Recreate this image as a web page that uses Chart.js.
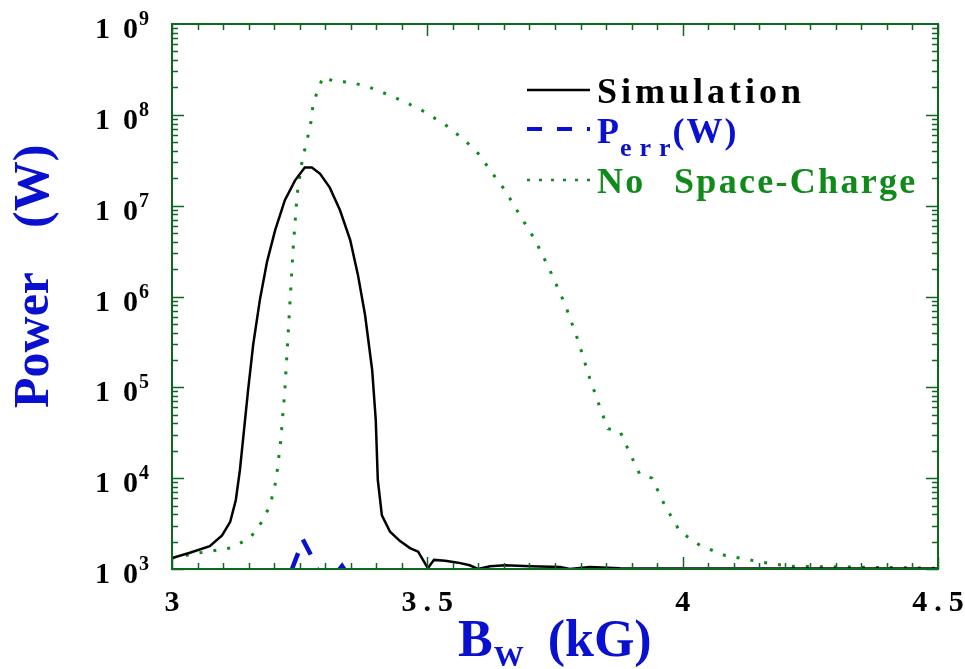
<!DOCTYPE html>
<html>
<head>
<meta charset="utf-8">
<script src="https://cdn.jsdelivr.net/npm/chart.js@4.4.1/dist/chart.umd.min.js"></script>
<style>
  body { margin: 0; background: #fff; }
  #wrap { width: 965px; height: 669px; }
</style>
</head>
<body>
<div id="wrap"><canvas id="myChart"></canvas></div>
<script>
// wiggler field (kG) and power (W)
const simB = [3.0, 3.035, 3.074, 3.098, 3.114, 3.125, 3.133, 3.139, 3.149, 3.159, 3.172, 3.186, 3.202, 3.221, 3.241,
  3.260, 3.274, 3.290, 3.309, 3.329, 3.349, 3.364, 3.378, 3.392, 3.399, 3.403, 3.411, 3.427, 3.446, 3.466, 3.482,
  3.501, 3.513, 3.535, 3.560, 3.583, 3.599, 3.623, 3.652, 3.701, 3.760, 3.779, 3.818, 3.877, 4.034, 4.5];
const simP = [1320, 1510, 1780, 2340, 3310, 5750, 12300, 26300, 93300, 295000, 912000, 2.4e6, 5.37e6, 1.15e7, 1.9e7,
  2.63e7, 2.63e7, 2.24e7, 1.58e7, 8.9e6, 4.17e6, 1.74e6, 6.3e5, 1.55e5, 4.37e4, 9550, 3890, 2570, 2040, 1700, 1550,
  1020, 1260, 1230, 1175, 1100, 1000, 1070, 1100, 1070, 1050, 1000, 1050, 1020, 1010, 1010];

const errB = [3.235, 3.247, 3.256, 3.270, 3.284, 3.29, 3.31, 3.333, 3.345, 3.38];
const errP = [1000, 1500, 2130, 1500, 1000, 850, 750, 1080, 850, 400];

const nscB = [3.0, 3.055, 3.114, 3.153, 3.176, 3.192, 3.204, 3.213, 3.221, 3.229, 3.237, 3.245, 3.255, 3.266, 3.272,
  3.276, 3.284, 3.296, 3.317, 3.349, 3.388, 3.437, 3.486, 3.535, 3.574, 3.603, 3.623, 3.652, 3.681, 3.711, 3.740,
  3.770, 3.795, 3.818, 3.842, 3.854, 3.877, 3.903, 3.916, 3.940, 3.965, 3.995, 4.034, 4.083, 4.151, 4.210, 4.328, 4.498];
const nscP = [1320, 1510, 1700, 2190, 3310, 5010, 9550, 26300, 93300, 5.5e5, 3.24e6, 1.32e7, 3.16e7, 5.75e7, 8.3e7,
  1.26e8, 1.78e8, 2.63e8, 2.34e8, 2.29e8, 2.0e8, 1.55e8, 1.15e8, 7.8e7, 5.2e7, 3.6e7, 2.45e7, 1.48e7, 7.9e6, 4.2e6, 1.95e6,
  8.1e5, 3.3e5, 1.26e5, 5.2e4, 3.5e4, 3.3e4, 1.58e4, 1.1e4, 1.0e4, 5000, 2570, 1820, 1410, 1200, 1070, 1050, 1020];

const xTicks = [3, 3.5, 4, 4.5];
const xTickText = ['3', '3.5', '4', '4.5'];
const yExponents = [3, 4, 5, 6, 7, 8, 9];

const frameColor = '#0b6a1e';
const blue = '#0a10d0';
const green = '#118a1c';
const serif = '"Liberation Serif", "Times New Roman", serif';

function pts(xs, ys) {
  return xs.map((x, i) => ({ x: x, y: ys[i] }));
}

const decor = {
  id: 'decor',
  afterDraw(chart) {
    const ctx = chart.ctx;
    const a = chart.chartArea;
    const sx = chart.scales.x, sy = chart.scales.y;
    ctx.save();

    // frame and inward ticks
    ctx.strokeStyle = frameColor;
    ctx.lineWidth = 2;
    ctx.strokeRect(a.left, a.top, a.right - a.left, a.bottom - a.top);
    ctx.beginPath();
    for (let k = 0; k <= 30; k++) {
      const v = 3 + k * 0.05;
      const px = Math.round(sx.getPixelForValue(v)) + 0.5;
      const len = (k % 10 === 0) ? 12 : 6;
      ctx.moveTo(px, a.bottom); ctx.lineTo(px, a.bottom - len);
      ctx.moveTo(px, a.top); ctx.lineTo(px, a.top + len);
    }
    for (let d = 3; d < 9; d++) {
      for (let m = 1; m <= 9; m++) {
        const py = Math.round(sy.getPixelForValue(m * Math.pow(10, d))) + 0.5;
        const len = (m === 1) ? 12 : 6;
        ctx.moveTo(a.left, py); ctx.lineTo(a.left + len, py);
        ctx.moveTo(a.right, py); ctx.lineTo(a.right - len, py);
      }
    }
    ctx.lineWidth = 1.5;
    ctx.stroke();

    // y tick labels 1 0^n
    ctx.fillStyle = '#000';
    ctx.textBaseline = 'alphabetic';
    ctx.textAlign = 'left';
    yExponents.forEach(e => {
      const py = sy.getPixelForValue(Math.pow(10, e));
      ctx.font = 'bold 30px ' + serif;
      ctx.fillText('1', 95, py + 14);
      ctx.fillText('0', 123, py + 14);
      ctx.font = 'bold 20px ' + serif;
      ctx.fillText(String(e), 139, py + 1);
    });

    // x tick labels
    ctx.font = 'bold 30px ' + serif;
    ctx.letterSpacing = '7px';
    xTicks.forEach((v, i) => {
      const px = sx.getPixelForValue(v);
      const t = xTickText[i];
      const w = ctx.measureText(t).width - 7;
      ctx.fillText(t, px - w / 2, a.bottom + 42);
    });
    ctx.letterSpacing = '0px';

    // x title: B_W (kG)
    ctx.fillStyle = blue;
    ctx.font = 'bold 52px ' + serif;
    let x0 = 458;
    ctx.fillText('B', x0, 656);
    x0 += ctx.measureText('B').width + 1;
    ctx.font = 'bold 30px ' + serif;
    ctx.fillText('W', x0, 666);
    x0 += ctx.measureText('W').width + 24;
    ctx.font = 'bold 52px ' + serif;
    ctx.fillText('(kG)', x0, 656);

    // y title: Power (W)
    ctx.save();
    ctx.translate(48, 408);
    ctx.rotate(-Math.PI / 2);
    ctx.font = 'bold 50px ' + serif;
    ctx.fillText('Power', 0, 0);
    ctx.fillText('(W)', 180, 0);
    ctx.restore();

    // legend
    const lx0 = 527, lx1 = 590, tx = 597;
    ctx.lineCap = 'butt';
    ctx.strokeStyle = '#000';
    ctx.lineWidth = 2.5;
    ctx.setLineDash([]);
    ctx.beginPath(); ctx.moveTo(lx0, 90); ctx.lineTo(lx1, 90); ctx.stroke();
    ctx.strokeStyle = blue;
    ctx.lineWidth = 4;
    ctx.setLineDash([15, 15]);
    ctx.beginPath(); ctx.moveTo(lx0, 129); ctx.lineTo(lx1, 129); ctx.stroke();
    ctx.strokeStyle = green;
    ctx.lineWidth = 2.5;
    ctx.setLineDash([3, 9]);
    ctx.beginPath(); ctx.moveTo(lx0, 180); ctx.lineTo(lx1, 180); ctx.stroke();
    ctx.setLineDash([]);

    ctx.fillStyle = '#000';
    ctx.font = 'bold 36px ' + serif;
    ctx.letterSpacing = '4px';
    ctx.fillText('Simulation', tx, 103);
    ctx.letterSpacing = '0px';

    ctx.fillStyle = blue;
    ctx.font = 'bold 36px ' + serif;
    ctx.fillText('P', tx, 143);
    let lx = tx + ctx.measureText('P').width + 1;
    ctx.font = 'bold 26px ' + serif;
    ctx.letterSpacing = '8px';
    ctx.fillText('err', lx, 156);
    lx += ctx.measureText('err').width - 6;
    ctx.letterSpacing = '2px';
    ctx.font = 'bold 36px ' + serif;
    ctx.fillText('(W)', lx, 143);
    ctx.letterSpacing = '0px';

    ctx.fillStyle = green;
    ctx.font = 'bold 36px ' + serif;
    ctx.letterSpacing = '2.3px';
    ctx.fillText('No', tx, 193);
    ctx.fillText('Space-Charge', tx + 77, 193);
    ctx.letterSpacing = '0px';

    ctx.restore();
  }
};

const ctx = document.getElementById('myChart').getContext('2d');
const myChart = new Chart(ctx, {
  type: 'scatter',
  data: {
    datasets: [{
      label: 'Simulation',
      data: pts(simB, simP),
      showLine: true,
      borderColor: '#000',
      borderWidth: 2.5,
      pointRadius: 0,
      tension: 0
    },
    {
      label: 'Perr(W)',
      data: pts(errB, errP),
      showLine: true,
      borderColor: blue,
      borderWidth: 4.5,
      borderDash: [17, 15],
      pointRadius: 0,
      tension: 0
    },
    {
      label: 'No Space-Charge',
      data: pts(nscB, nscP),
      showLine: true,
      borderColor: green,
      borderWidth: 3,
      borderDash: [3, 11],
      pointRadius: 0,
      tension: 0
    }]
  },
  options: {
    responsive: true,
    maintainAspectRatio: false,
    animation: false,
    layout: { padding: { top: 24, right: 27, left: 0, bottom: 0 } },
    plugins: { legend: { display: false }, tooltip: { enabled: false } },
    scales: {
      x: {
        type: 'linear', min: 3, max: 4.5,
        grid: { display: false }, border: { display: false },
        ticks: { display: false },
        afterFit(s) { s.height = 100; }
      },
      y: {
        type: 'logarithmic', min: 1000, max: 1e9,
        grid: { display: false }, border: { display: false },
        ticks: { display: false },
        afterFit(s) { s.width = 172; }
      }
    }
  },
  plugins: [decor]
});
</script>
</body>
</html>
